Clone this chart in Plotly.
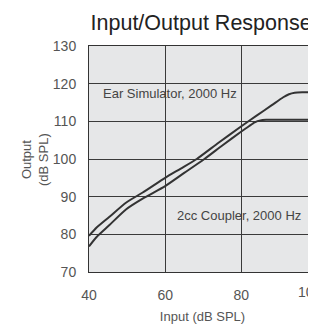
import plotly.graph_objects as go

# Input level (dB SPL)
ear_x = [40, 42, 45.3, 49.7, 54.1, 60, 64, 68.3, 74, 80, 84, 88, 91, 92.5, 94, 96, 99.6]
ear_y = [79.6, 81.8, 84.6, 88.4, 91.1, 95.0, 97.4, 100.0, 104.3, 108.7, 111.5, 114.3, 116.4, 117.2, 117.6, 117.7, 117.7]

cpl_x = [40, 42, 45.3, 49.7, 54.3, 60, 65, 70.3, 75, 80, 82, 83.5, 85, 86.5, 90, 99.6]
cpl_y = [76.8, 79.3, 82.4, 86.6, 89.6, 92.8, 96.3, 100.0, 103.6, 107.3, 108.7, 109.7, 110.25, 110.4, 110.4, 110.4]

x_ticks = [40, 60, 80, 100]
y_ticks = [70, 80, 90, 100, 110, 120, 130]

FONT = "Liberation Sans, Arial, Helvetica, sans-serif"
LINE = "#333333"

fig = go.Figure()
fig.add_trace(go.Scatter(x=ear_x, y=ear_y, mode="lines",
                         line=dict(color=LINE, width=2, shape="spline", smoothing=0.6),
                         hoverinfo="skip", showlegend=False))
fig.add_trace(go.Scatter(x=cpl_x, y=cpl_y, mode="lines",
                         line=dict(color=LINE, width=2, shape="spline", smoothing=0.6),
                         hoverinfo="skip", showlegend=False))

fig.add_annotation(x=43.2, y=117.45, xref="x", yref="y", text="Ear Simulator, 2000 Hz",
                   showarrow=False, xanchor="left", yanchor="middle",
                   font=dict(family=FONT, size=13, color="#444444"))
fig.add_annotation(x=96.3, y=85.0, xref="x", yref="y", text="2cc Coupler, 2000 Hz",
                   showarrow=False, xanchor="right", yanchor="middle",
                   font=dict(family=FONT, size=13, color="#444444"))

# y-axis title (two lines, rotated)
fig.add_annotation(x=-0.238, y=0.5, xref="paper", yref="paper", text="Output<br>(dB SPL)",
                   textangle=-90, showarrow=False, xanchor="center", yanchor="middle",
                   font=dict(family=FONT, size=13, color="#555555"))
# the last x tick label, cut by the right edge
fig.add_annotation(x=1.0 + (100 - 99.6) * 3.8 / 227, y=0, xref="paper", yref="paper",
                   text=str(x_ticks[-1]), showarrow=False, xanchor="center", yanchor="middle",
                   xshift=-8, yshift=-20, font=dict(family=FONT, size=14, color="#555555"))

# page body has an 8px margin, so the figure is 8px smaller than the window
fig.update_layout(
    width=308, height=316,
    margin=dict(l=81, r=0, t=38, b=52, pad=0),
    paper_bgcolor="white", plot_bgcolor="#e6e7e8",
    title=dict(text="Input/Output Response", x=0.627, xanchor="center",
               y=1 - 14 / 316, yanchor="middle", yref="container",
               font=dict(family=FONT, size=21.5, color="#222222")),
    font=dict(family=FONT, color="#555555"),
)
fig.update_xaxes(range=[40, 99.6], tickvals=x_ticks, ticktext=[str(v) for v in x_ticks],
                 showgrid=True, gridcolor="#3a3a3a", gridwidth=1,
                 showline=True, linecolor=LINE, linewidth=1, mirror=True,
                 zeroline=False, ticks="", ticklabelstandoff=10,
                 tickfont=dict(family=FONT, size=14, color="#555555"),
                 title=dict(text="Input (dB SPL)", standoff=10,
                            font=dict(family=FONT, size=13, color="#555555")))
fig.update_yaxes(range=[70, 130], tickvals=y_ticks,
                 showgrid=True, gridcolor="#3a3a3a", gridwidth=1,
                 showline=True, linecolor=LINE, linewidth=1, mirror=True,
                 zeroline=False, ticks="", ticklabelstandoff=9,
                 tickfont=dict(family=FONT, size=14, color="#555555"))

fig.write_html("out.html")
